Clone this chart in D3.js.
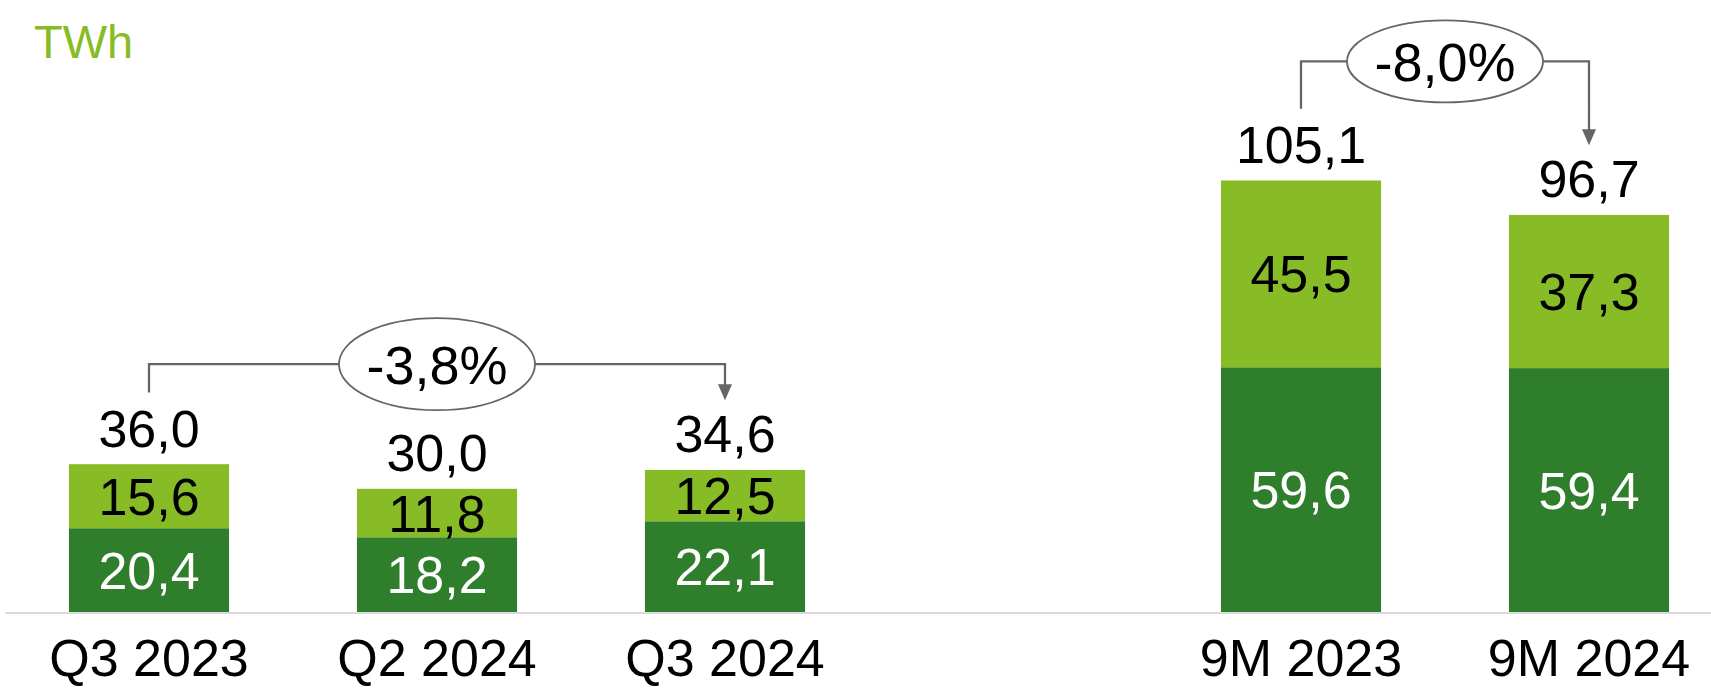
<!DOCTYPE html>
<html>
<head>
<meta charset="utf-8">
<script src="https://cdn.jsdelivr.net/npm/d3@7"></script>
<style>
  html, body { margin: 0; padding: 0; background: #fff; }
  svg { display: block; font-family: "Liberation Sans", Arial, sans-serif; }
</style>
</head>
<body>
<svg width="1711" height="688"></svg>
<script>
// data
const categories = ["Q3 2023", "Q2 2024", "Q3 2024", "9M 2023", "9M 2024"];
const slots = ["Q3 2023", "Q2 2024", "Q3 2024", "gap", "9M 2023", "9M 2024"];
const baseValues = [20.4, 18.2, 22.1, 59.6, 59.4];
const topValues = [15.6, 11.8, 12.5, 45.5, 37.3];
const totals = [36.0, 30.0, 34.6, 105.1, 96.7];
const changeFrom = ["Q3 2023", "9M 2023"];
const changeTo = ["Q3 2024", "9M 2024"];
const changeLabels = ["-3,8%", "-8,0%"];
const unitLabel = "TWh";

const svg = d3.select("svg");
const width = +svg.attr("width");
const height = +svg.attr("height");

const darkGreen = "#2f7e2b";
const lightGreen = "#88bc27";
const grey = "#666666";
const fontSize = 52;
const pctSize = 54;

const fmt = (v) => d3.format(".1f")(v).replace(".", ",");

const xScale = d3
  .scaleBand()
  .domain(slots)
  .range([5, 1733])
  .paddingInner(0.444)
  .paddingOuter(0.222);

const yScale = d3.scaleLinear().domain([0, 100]).range([612, 201.4]);

const data = categories.map((c, i) => ({
  cat: c,
  base: baseValues[i],
  top: topValues[i],
  total: totals[i],
}));

// unit
svg
  .append("text")
  .attr("x", 34)
  .attr("y", 58)
  .attr("fill", lightGreen)
  .style("font-size", "47px")
  .text(unitLabel);

// baseline
const xAxis = d3.axisBottom(xScale).tickSize(0).tickFormat("");
const xAxisG = svg
  .append("g")
  .attr("transform", `translate(0, ${yScale(0) + 1})`)
  .call(xAxis);
xAxisG
  .select(".domain")
  .attr("d", `M5,0H${width}`)
  .attr("stroke", "#d9d9d9")
  .attr("stroke-width", 2);

const bars = svg.selectAll(".bar").data(data).enter().append("g").attr("class", "bar");

bars
  .append("rect")
  .attr("x", (d) => xScale(d.cat))
  .attr("width", xScale.bandwidth())
  .attr("y", (d) => yScale(d.base))
  .attr("height", (d) => yScale(0) - yScale(d.base))
  .attr("fill", darkGreen);

bars
  .append("rect")
  .attr("x", (d) => xScale(d.cat))
  .attr("width", xScale.bandwidth())
  .attr("y", (d) => yScale(d.base + d.top))
  .attr("height", (d) => yScale(d.base) - yScale(d.base + d.top))
  .attr("fill", lightGreen);

const cx = (d) => xScale(d.cat) + xScale.bandwidth() / 2;
const capShift = fontSize * 0.358;

bars
  .append("text")
  .attr("x", cx)
  .attr("y", (d) => (yScale(0) + yScale(d.base)) / 2 + capShift)
  .attr("text-anchor", "middle")
  .attr("fill", "#fff")
  .style("font-size", fontSize + "px")
  .text((d) => fmt(d.base));

bars
  .append("text")
  .attr("x", cx)
  .attr("y", (d) => (yScale(d.base) + yScale(d.base + d.top)) / 2 + capShift)
  .attr("text-anchor", "middle")
  .attr("fill", "#000")
  .style("font-size", fontSize + "px")
  .text((d) => fmt(d.top));

bars
  .append("text")
  .attr("x", cx)
  .attr("y", (d) => yScale(d.total) - 17.5)
  .attr("text-anchor", "middle")
  .attr("fill", "#000")
  .style("font-size", fontSize + "px")
  .text((d) => fmt(d.total));

// category labels
svg
  .selectAll(".cat")
  .data(data)
  .enter()
  .append("text")
  .attr("class", "cat")
  .attr("x", cx)
  .attr("y", 676)
  .attr("text-anchor", "middle")
  .attr("fill", "#000")
  .style("font-size", fontSize + "px")
  .text((d) => d.cat);

// change brackets
const bracketRise = [100, 119];
const ellipseRy = [46, 41];
changeLabels.forEach((label, i) => {
  const from = data.find((d) => d.cat == changeFrom[i]);
  const to = data.find((d) => d.cat == changeTo[i]);
  const x1 = cx(from);
  const x2 = cx(to);
  const yFrom = yScale(from.total) - 17.5 - fontSize * 0.716 - 17;
  const yTo = yScale(to.total) - 17.5 - fontSize * 0.716 - 15;
  const yLine = yScale(from.total) - bracketRise[i];
  const mid = (x1 + x2) / 2;

  const g = svg.append("g");
  g.append("path")
    .attr("d", `M${x1},${yFrom}V${yLine}H${x2}V${yTo - 15}`)
    .attr("fill", "none")
    .attr("stroke", grey)
    .attr("stroke-width", 2.3);
  g.append("path")
    .attr("d", `M${x2 - 7},${yTo - 16}L${x2 + 7},${yTo - 16}L${x2},${yTo}Z`)
    .attr("fill", grey);
  g.append("ellipse")
    .attr("cx", mid)
    .attr("cy", yLine)
    .attr("rx", 98)
    .attr("ry", ellipseRy[i])
    .attr("fill", "#fff")
    .attr("stroke", grey)
    .attr("stroke-width", 1.8);
  g.append("text")
    .attr("x", mid)
    .attr("y", yLine + pctSize * 0.358)
    .attr("text-anchor", "middle")
    .attr("fill", "#000")
    .style("font-size", pctSize + "px")
    .text(label);
});
</script>
</body>
</html>
